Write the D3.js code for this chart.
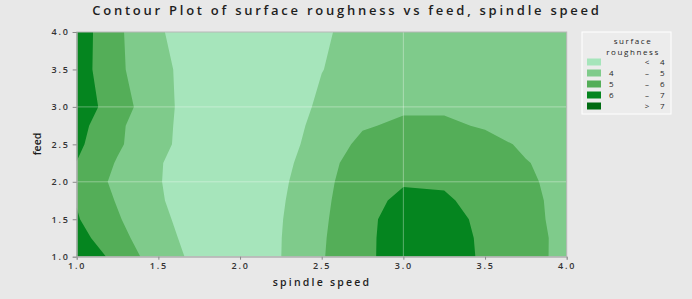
<!DOCTYPE html>
<html lang="en">
<head>
<meta charset="UTF-8">
<title>Contour Plot of surface roughness vs feed, spindle speed</title>
<script src="https://d3js.org/d3.v7.min.js"></script>
<style>
    body { margin: 0; background: #e8e8e8; }
    text { font-family: "Open Sans", sans-serif; fill: #1e1e1e; }
    .tick text { font-size: 9px; font-weight: 600; letter-spacing: 1.8px; fill: #333; }
    .tick line { stroke: #8a8a8a; }
    .domain { stroke: #b0b0b0; }
</style>
</head>
<body>
<div id="chart"></div>
<script>
// grid: spindle speed across, feed down (1.0 -> 4.0)
const speedGrid = [1.0, 1.25, 1.5, 1.75, 2.0, 2.25, 2.5, 2.75, 3.0, 3.25, 3.5, 3.75, 4.0];
const feedGrid = [1.0, 1.25, 1.5, 1.75, 2.0, 2.25, 2.5, 2.75, 3.0, 3.5, 4.0];
const roughness = [
    [7.1, 5.57, 4.55, 3.69, 3.5, 3.99, 4.93, 5.75, 6.5, 6.45, 5.86, 5.3, 4.76],
    [6.38, 5.3, 4.36, 3.61, 3.5, 3.98, 4.9, 5.73, 6.52, 6.42, 5.84, 5.28, 4.78],
    [6.08, 5.1, 4.1, 3.79, 3.55, 3.95, 4.85, 5.7, 6.49, 6.35, 5.77, 5.25, 4.73],
    [5.95, 4.92, 4.05, 3.74, 3.52, 3.9, 4.75, 5.79, 6.13, 6.08, 5.79, 5.22, 4.72],
    [5.85, 4.73, 4.03, 3.7, 3.5, 3.85, 4.6, 5.85, 5.95, 5.93, 5.75, 5.2, 4.58],
    [5.98, 4.915, 4.05, 3.63, 3.47, 3.78, 4.47, 5.67, 5.75, 5.72, 5.55, 5.05, 4.63],
    [6.2, 5.15, 4.2, 3.6, 3.45, 3.7, 4.325, 5.26, 5.5, 5.5, 5.35, 4.835, 4.6],
    [6.35, 5.2, 4.2, 3.65, 3.42, 3.6, 4.267, 4.9, 5.18, 5.18, 4.9, 4.7, 4.55],
    [6.5, 5.55, 4.175, 3.74, 3.4, 3.5, 4.16, 4.5, 4.85, 4.85, 4.6, 4.55, 4.5],
    [6.5, 5.2, 4.2, 3.65, 3.4, 3.5, 3.98, 4.35, 4.55, 4.6, 4.55, 4.5, 4.45],
    [6.55, 5.175, 4.08, 3.58, 3.4, 3.45, 3.85, 4.39, 4.5, 4.55, 4.5, 4.45, 4.4]
];
const levels = [4, 5, 6, 7];
const levelColors = ["#a6e5bb", "#7fcb8b", "#54ae58", "#05851f", "#006b12"];
const xTicks = [1.0, 1.5, 2.0, 2.5, 3.0, 3.5, 4.0];
const yTicks = [1.0, 1.5, 2.0, 2.5, 3.0, 3.5, 4.0];
const refX = [3.0];
const refY = [2.0, 3.0];
const legendLow = ["", "4", "5", "6", ""];
const legendSign = ["<", "\u2013", "\u2013", "\u2013", ">"];
const legendHigh = ["4", "5", "6", "7", "7"];

const width = 692, height = 299;
const pLeft = 76.7, pRight = 566.7, pTop = 32, pBottom = 256.7;

const svg = d3.select("#chart").append("svg")
    .attr("width", width)
    .attr("height", height);

const x = d3.scaleLinear().domain([1, 4]).range([pLeft, pRight]);
const y = d3.scaleLinear().domain([1, 4]).range([pBottom, pTop]);

svg.append("defs").append("clipPath").attr("id", "plotClip")
    .append("rect")
    .attr("x", pLeft).attr("y", pTop)
    .attr("width", pRight - pLeft).attr("height", pBottom - pTop);

const plot = svg.append("g").attr("clip-path", "url(#plotClip)");

// lowest band first, then each level on top
plot.append("rect")
    .attr("x", pLeft).attr("y", pTop)
    .attr("width", pRight - pLeft).attr("height", pBottom - pTop)
    .attr("fill", levelColors[0]);

const nx = speedGrid.length, ny = feedGrid.length;

const contours = d3.contours()
    .size([nx, ny])
    .thresholds(levels)(roughness.flat());

// grid index -> data value (rows are not evenly spaced)
const colToSpeed = d3.scaleLinear().domain(d3.range(nx)).range(speedGrid);
const rowToFeed = d3.scaleLinear().domain(d3.range(ny)).range(feedGrid);

// grid sample i sits at contour coordinate i + 0.5
const toPixels = d3.geoTransform({
    point(cx, cy) {
        this.stream.point(x(colToSpeed(cx - 0.5)), y(rowToFeed(cy - 0.5)));
    }
});

plot.selectAll("path.band")
    .data(contours)
    .enter()
    .append("path")
    .attr("class", "band")
    .attr("d", d3.geoPath(toPixels))
    .attr("fill", (d, i) => levelColors[i + 1]);

// reference lines
plot.selectAll("line.refx")
    .data(refX)
    .enter()
    .append("line")
    .attr("x1", d => x(d)).attr("x2", d => x(d))
    .attr("y1", pTop).attr("y2", pBottom)
    .attr("stroke", "#ffffff").attr("stroke-opacity", 0.35).attr("stroke-width", 1);

plot.selectAll("line.refy")
    .data(refY)
    .enter()
    .append("line")
    .attr("x1", pLeft).attr("x2", pRight)
    .attr("y1", d => y(d)).attr("y2", d => y(d))
    .attr("stroke", "#ffffff").attr("stroke-opacity", 0.35).attr("stroke-width", 1);

svg.append("rect")
    .attr("x", pLeft).attr("y", pTop)
    .attr("width", pRight - pLeft).attr("height", pBottom - pTop)
    .attr("fill", "none")
    .attr("stroke", "#b8b8b8");

// axes
svg.append("g")
    .attr("transform", `translate(0,${pBottom})`)
    .call(d3.axisBottom(x).tickValues(xTicks).tickFormat(d3.format(".1f")).tickSize(3).tickPadding(3));

svg.append("g")
    .attr("transform", `translate(${pLeft},0)`)
    .call(d3.axisLeft(y).tickValues(yTicks).tickFormat(d3.format(".1f")).tickSize(4).tickPadding(3));

// title and axis labels
svg.append("text")
    .attr("x", 347).attr("y", 15)
    .attr("text-anchor", "middle")
    .style("font-size", "13px").style("font-weight", "600").style("letter-spacing", "2.75px")
    .text("Contour Plot of surface roughness vs feed, spindle speed");

svg.append("text")
    .attr("x", 322).attr("y", 286)
    .attr("text-anchor", "middle")
    .style("font-size", "10.5px").style("font-weight", "600").style("letter-spacing", "2.2px")
    .text("spindle speed");

svg.append("text")
    .attr("transform", "translate(41,144) rotate(-90)")
    .attr("text-anchor", "middle")
    .style("font-size", "10.5px").style("font-weight", "600")
    .text("feed");

// legend
const lg = svg.append("g");
lg.append("rect")
    .attr("x", 582).attr("y", 32)
    .attr("width", 89).attr("height", 82)
    .attr("fill", "#ececec")
    .attr("stroke", "#ffffff");

lg.append("text")
    .attr("x", 633).attr("y", 44)
    .attr("text-anchor", "middle")
    .style("font-size", "8px").style("letter-spacing", "1.6px")
    .text("surface");
lg.append("text")
    .attr("x", 633).attr("y", 55)
    .attr("text-anchor", "middle")
    .style("font-size", "8px").style("letter-spacing", "1.6px")
    .text("roughness");

const rows = lg.selectAll("g.row")
    .data(legendSign)
    .enter()
    .append("g")
    .attr("transform", (d, i) => `translate(0,${62 + i * 11})`);

rows.append("rect")
    .attr("x", 587).attr("y", -3.5)
    .attr("width", 14).attr("height", 7)
    .attr("fill", (d, i) => levelColors[i]);

rows.append("text")
    .attr("x", 609).attr("dy", "0.35em")
    .style("font-size", "8px")
    .text((d, i) => legendLow[i]);

rows.append("text")
    .attr("x", 647).attr("dy", "0.35em")
    .attr("text-anchor", "middle")
    .style("font-size", "8px")
    .text(d => d);

rows.append("text")
    .attr("x", 660).attr("dy", "0.35em")
    .style("font-size", "8px")
    .text((d, i) => legendHigh[i]);
</script>
</body>
</html>
